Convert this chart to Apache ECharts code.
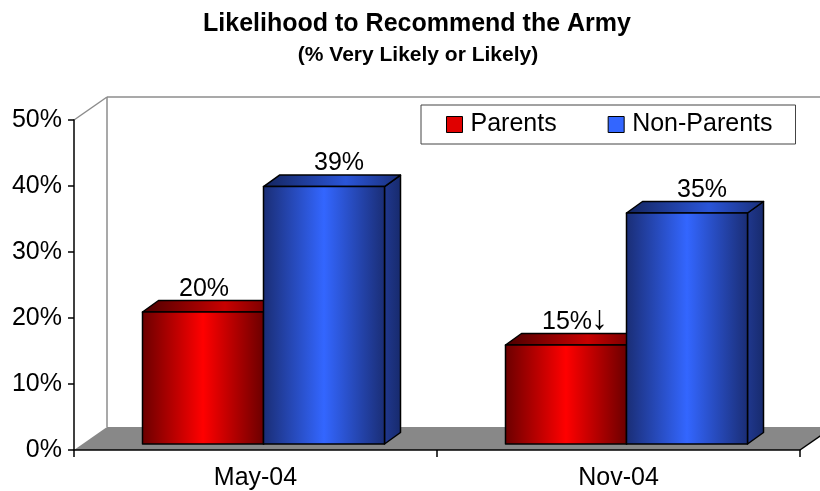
<!DOCTYPE html>
<html>
<head>
<meta charset="utf-8">
<script src="https://cdn.jsdelivr.net/npm/echarts@6/dist/echarts.min.js"></script>
<style>html,body{margin:0;padding:0;background:#fff}#c{width:820px;height:491px}</style>
</head>
<body>
<div id="c"></div>
<script>
const categories = ['May-04', 'Nov-04'];
const parents = [20, 15];
const nonParents = [39, 35];
const parentsMarks = ['', '↓'];
const nonParentsMarks = ['', ''];
const seriesNames = ['Parents', 'Non-Parents'];
const yMin = 0, yMax = 50, yStep = 10;

const FONT = '"Liberation Sans", Arial, sans-serif';
const G = echarts.graphic;

function hGrad(stops) {
  return new G.LinearGradient(0, 0, 1, 0, stops.map((c) => ({offset: c[0], color: c[1]})));
}

const styles = [
  {
    front: [[0, '#6a0000'], [0.5, '#ff0000'], [1, '#6a0000']],
    top: [[0, '#4a0000'], [0.6, '#c80000'], [1, '#600000']],
    side: [[0, '#800000'], [1, '#500000']],
    labelDx: 1
  },
  {
    front: [[0, '#1a2d74'], [0.5, '#3366ff'], [1, '#1a2d74']],
    top: [[0, '#14245c'], [0.6, '#2a55d8'], [1, '#1a2f78']],
    side: [[0, '#20388f'], [1, '#172a6c']],
    labelDx: 15
  }
];

function barRender(si, marks) {
  return function (params, api) {
    const ci = api.value(0), v = api.value(1);
    const base = api.coord([ci, 0]);
    const tp = api.coord([ci, v]);
    const band = api.size([1, 0])[0];
    const w = band / 3;
    const ox = 8, oy = -6, dx = 16, dy = -11.5;
    const x0 = base[0] - w + si * w + ox;
    const x1 = x0 + w;
    const yb = base[1] + oy;
    const yt = tp[1] + oy;
    const st = styles[si];
    const stroke = {stroke: '#000', lineWidth: 1.5, lineJoin: 'round'};
    const children = [
      {type: 'polygon', shape: {points: [[x1, yt], [x1 + dx, yt + dy], [x1 + dx, yb + dy], [x1, yb]]},
        style: Object.assign({fill: hGrad(st.side)}, stroke)},
      {type: 'polygon', shape: {points: [[x0, yt], [x1, yt], [x1 + dx, yt + dy], [x0 + dx, yt + dy]]},
        style: Object.assign({fill: hGrad(st.top)}, stroke)},
      {type: 'rect', shape: {x: x0, y: yt, width: w, height: yb - yt},
        style: Object.assign({fill: hGrad(st.front)}, stroke)}
    ];
    const cx = (x0 + x1) / 2 + st.labelDx;
    children.push({type: 'text', style: {text: v + '%', x: cx, y: yt + dy + 1, align: 'center', verticalAlign: 'bottom',
      font: '25px ' + FONT, fill: '#000'}});
    const mk = marks[params.dataIndex];
    if (mk) {
      children.push({type: 'text', style: {text: mk, x: cx + 24, y: yt + dy + 3, align: 'left', verticalAlign: 'bottom',
        font: 'bold 34px ' + FONT, fill: '#000'}});
    }
    return {type: 'group', children: children};
  };
}

function frameRender(params, api) {
  const cs = params.coordSys;
  const x = cs.x, y = cs.y, w = cs.width, h = cs.height;
  const DX = 33, DY = -23;
  const gray = {stroke: '#8c8c8c', lineWidth: 1.5};
  return {type: 'group', children: [
    {type: 'polygon', shape: {points: [[x, y + h], [x + w, y + h], [x + w + DX, y + h + DY], [x + DX, y + h + DY]]},
      style: {fill: '#888888'}},
    {type: 'line', shape: {x1: x + w, y1: y + h, x2: x + w + DX, y2: y + h + DY}, style: {stroke: '#000', lineWidth: 1.5}},
    {type: 'line', shape: {x1: x + DX, y1: y + DY, x2: x + DX, y2: y + h + DY}, style: gray},
    {type: 'line', shape: {x1: x + DX, y1: y + DY, x2: x + w + DX, y2: y + DY}, style: gray},
    {type: 'line', shape: {x1: x, y1: y, x2: x + DX, y2: y + DY}, style: gray}
  ]};
}

const chart = echarts.init(document.getElementById('c'), null, {renderer: 'canvas'});
chart.setOption({
  animation: false,
  backgroundColor: '#fff',
  title: [
    {text: 'Likelihood to Recommend the Army', left: 417, top: 12, textAlign: 'center', padding: 0,
      textStyle: {fontFamily: FONT, fontWeight: 'bold', fontSize: 25, color: '#000'}},
    {text: '(% Very Likely or Likely)', left: 418, top: 45, textAlign: 'center', padding: 0,
      textStyle: {fontFamily: FONT, fontWeight: 'bold', fontSize: 21, color: '#000'}}
  ],
  legend: {
    data: seriesNames, left: 421, top: 105, orient: 'horizontal',
    padding: [7, 23, 7, 25], itemGap: 51, itemWidth: 16, itemHeight: 16, icon: 'rect',
    borderColor: '#444', borderWidth: 1, backgroundColor: '#fff',
    itemStyle: {borderColor: '#000', borderWidth: 1},
    textStyle: {fontFamily: FONT, fontSize: 25, color: '#000', padding: [0, 0, 0, 3]}
  },
  grid: {left: 74, right: 20, top: 120, bottom: 38, containLabel: false},
  xAxis: {
    type: 'category', data: categories, z: 5,
    axisLine: {lineStyle: {color: '#000', width: 1.5}},
    axisTick: {show: true, length: 7, lineStyle: {color: '#000', width: 1.5}},
    axisLabel: {fontFamily: FONT, fontSize: 25, color: '#000', margin: 16}
  },
  yAxis: {
    type: 'value', min: yMin, max: yMax, interval: yStep, z: 5,
    axisLine: {show: true, lineStyle: {color: '#000', width: 1.5}},
    axisTick: {show: true, length: 6, lineStyle: {color: '#000', width: 1.5}},
    splitLine: {show: false},
    axisLabel: {formatter: '{value}%', fontFamily: FONT, fontSize: 25, color: '#000', margin: 12}
  },
  series: [
    {type: 'custom', name: 'frame', silent: true, z: 1, renderItem: frameRender, data: [[0, 0]], encode: {x: 0, y: 1}},
    {type: 'custom', name: seriesNames[0], z: 2, itemStyle: {color: '#e00000'}, renderItem: barRender(0, parentsMarks),
      data: parents.map((v, i) => [i, v]), encode: {x: 0, y: 1}},
    {type: 'custom', name: seriesNames[1], z: 2, itemStyle: {color: '#3366ff'}, renderItem: barRender(1, nonParentsMarks),
      data: nonParents.map((v, i) => [i, v]), encode: {x: 0, y: 1}}
  ]
});
</script>
</body>
</html>
